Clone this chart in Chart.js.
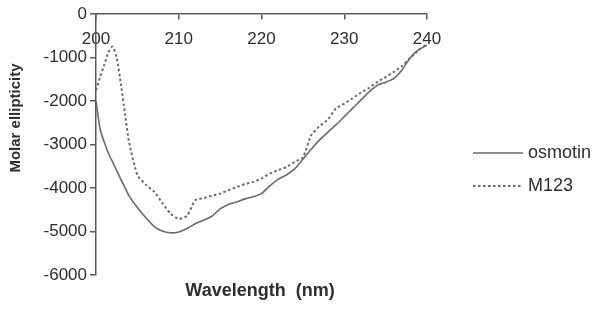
<!DOCTYPE html>
<html>
<head>
<meta charset="utf-8">
<script src="https://cdn.jsdelivr.net/npm/chart.js@4.4.1/dist/chart.umd.min.js"></script>
<style>
  html, body { margin: 0; padding: 0; background: #fff; }
  #wrap { width: 604px; height: 309px; position: relative; }
</style>
</head>
<body>
<div id="wrap"><canvas id="cdChart"></canvas></div>
<script>
// wavelength (nm) and molar ellipticity
const wavelengths = [200, 200.5, 201, 201.5, 202, 202.5, 203, 203.5, 204, 205, 206, 207, 208, 209, 210,
    211, 212, 213, 214, 215, 216, 217, 218, 219, 220, 221, 222, 223, 224, 225,
    226, 227, 228, 229, 230, 231, 232, 233, 234, 235, 236, 237, 238, 239, 240];
const osmotin = [-2000, -2650, -2950, -3200, -3400, -3600, -3800, -3990, -4180, -4450, -4680, -4880, -4990, -5030, -5010,
    -4930, -4820, -4740, -4650, -4480, -4380, -4320, -4250, -4200, -4130, -3950, -3800, -3700, -3560, -3340,
    -3110, -2900, -2720, -2550, -2360, -2170, -1980, -1790, -1640, -1570, -1480, -1280, -1000, -820, -720];
const m123 = [-1750, -1450, -1170, -880, -750, -1000, -1600, -2290, -2950, -3700, -3920, -4080, -4340, -4590, -4710,
    -4640, -4280, -4230, -4180, -4130, -4050, -3980, -3910, -3860, -3780, -3670, -3590, -3520, -3400, -3300,
    -2790, -2580, -2430, -2170, -2060, -1940, -1810, -1700, -1560, -1450, -1330, -1190, -1000, -830, -690];
const seriesNames = ['osmotin', 'M123'];
const xTicks = [200, 210, 220, 230, 240];
const yTicks = [0, -1000, -2000, -3000, -4000, -5000, -6000];

const axisColor = '#5a5a5a';
const textColor = '#2e2e2e';
const lineColor = '#6a6a6a';
const font = 'Liberation Sans, Arial, sans-serif';

const toPoints = ys => wavelengths.map((x, i) => ({ x, y: ys[i] }));

// axis titles + legend drawn on the canvas
const decorPlugin = {
    id: 'decor',
    afterDraw(chart) {
        const ctx = chart.ctx;
        ctx.save();
        ctx.fillStyle = textColor;
        ctx.font = `bold 18px ${font}`;
        ctx.textAlign = 'center';
        ctx.textBaseline = 'alphabetic';
        ctx.fillText('Wavelength  (nm)', 260, 296);

        ctx.translate(20, 118);
        ctx.rotate(-Math.PI / 2);
        ctx.font = `bold 15px ${font}`;
        ctx.fillText('Molar ellipticity', 0, 0);
        ctx.restore();

        ctx.save();
        const rows = [153, 186];
        chart.data.datasets.forEach((ds, i) => {
            const y = rows[i];
            ctx.strokeStyle = ds.borderColor;
            ctx.lineWidth = ds.borderWidth;
            ctx.setLineDash(ds.borderDash || []);
            ctx.beginPath();
            ctx.moveTo(473, y);
            ctx.lineTo(523, y);
            ctx.stroke();
            ctx.setLineDash([]);
            ctx.fillStyle = textColor;
            ctx.font = `18px ${font}`;
            ctx.textAlign = 'left';
            ctx.textBaseline = 'middle';
            ctx.fillText(ds.label, 528, y);
        });
        ctx.restore();
    }
};

new Chart(document.getElementById('cdChart'), {
    type: 'line',
    data: {
        datasets: [{
            label: seriesNames[0],
            data: toPoints(osmotin),
            borderColor: lineColor,
            borderWidth: 1.6,
            pointRadius: 0,
            tension: 0.2,
            fill: false
        }, {
            label: seriesNames[1],
            data: toPoints(m123),
            borderColor: lineColor,
            borderWidth: 2,
            borderDash: [2.5, 2.5],
            pointRadius: 0,
            tension: 0.2,
            fill: false
        }]
    },
    options: {
        responsive: true,
        maintainAspectRatio: false,
        animation: false,
        layout: { padding: { left: 0, top: 14, right: 177, bottom: 34 } },
        plugins: { legend: { display: false }, tooltip: { enabled: false } },
        scales: {
            x: {
                type: 'linear',
                position: { y: 0 },
                min: 200,
                max: 240,
                afterBuildTicks: s => { s.ticks = xTicks.map(v => ({ value: v })); },
                ticks: { callback: v => String(v), color: textColor, font: { family: font, size: 17 }, padding: 10, maxRotation: 0 },
                grid: { drawOnChartArea: false, drawTicks: true, tickLength: 5, color: axisColor, lineWidth: 1.5 },
                border: { display: true, color: axisColor, width: 1.5 }
            },
            y: {
                type: 'linear',
                position: 'left',
                min: -6000,
                max: 0,
                afterBuildTicks: s => { s.ticks = yTicks.map(v => ({ value: v })); },
                afterFit: s => { s.width = 96; },
                ticks: { callback: v => String(v), color: textColor, font: { family: font, size: 17 }, padding: 3 },
                grid: { drawOnChartArea: false, drawTicks: true, tickLength: 6, color: axisColor, lineWidth: 1.5 },
                border: { display: true, color: axisColor, width: 1.5 }
            }
        }
    },
    plugins: [decorPlugin]
});
</script>
</body>
</html>
